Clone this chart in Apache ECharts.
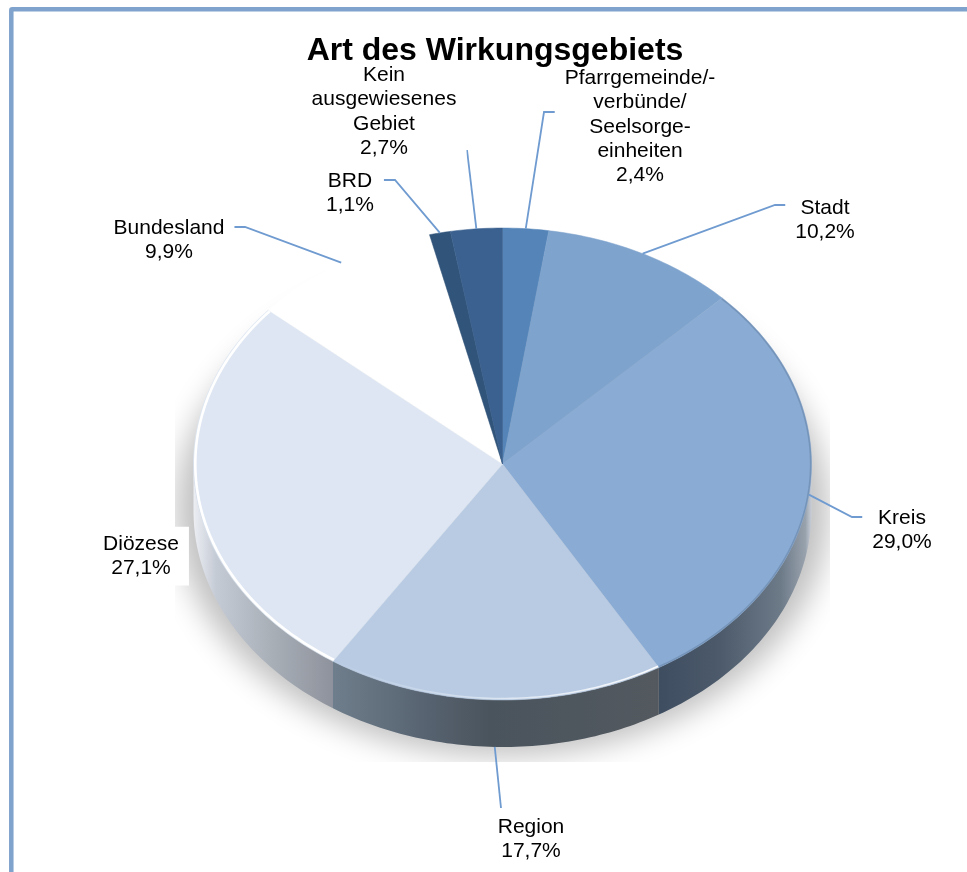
<!DOCTYPE html>
<html>
<head>
<meta charset="utf-8">
<script src="https://cdn.jsdelivr.net/npm/echarts@6/dist/echarts.min.js"></script>
<style>html,body{margin:0;padding:0;background:#fff}#c{width:967px;height:872px}</style>
</head>
<body>
<div id="c"></div>
<script>
// Data
var categories = ['Pfarrgemeinde/-\nverbünde/\nSeelsorge-\neinheiten', 'Stadt', 'Kreis', 'Region', 'Diözese', 'Bundesland', 'BRD', 'Kein\nausgewiesenes\nGebiet'];
var values = [2.4, 10.2, 29.0, 17.7, 27.1, 9.9, 1.1, 2.7];
var valueLabels = ['2,4%', '10,2%', '29,0%', '17,7%', '27,1%', '9,9%', '1,1%', '2,7%'];

// Styling
var topColors = ['#5585b8', '#7ea3cd', '#8aabd3', '#b8cbe3', '#dde6f2', '#ffffff', '#31547a', '#3a618f'];
var wallStops = {
  2: [[0, '#3e4d60'], [0.4, '#4c5a6b'], [0.8, '#6d7a88'], [0.96, '#98a2ad'], [1, '#c8ced8']],
  3: [[0, '#6f7e8c'], [0.27, '#586472'], [0.48, '#4a545d'], [1, '#53595f']],
  4: [[0, '#eceef3'], [0.16, '#c5cbd5'], [0.55, '#a9b0b8'], [1, '#8e929c']]
};
// Label layout: text centre, first line centre, leader elbow points
var labelLayout = [
  {x: 640, y: 77,  path: [[544, 112], [555, 112]]},
  {x: 825, y: 207, path: [[775, 205], [789, 205]]},
  {x: 902, y: 517, path: [[852, 517], [866, 517]]},
  {x: 531, y: 826, path: [[501, 808]], onWall: true},
  {x: 141, y: 543, path: []},
  {x: 169, y: 227, path: [[245, 227], [234, 227]]},
  {x: 350, y: 180, path: [[395, 180], [383, 180]]},
  {x: 384, y: 74,  path: [[467, 150]]}
];

var CX = 502.5, CY = 464, RX = 309, RY = 236, DEPTH = 47;
var LINE = '#6f9bd0', LH = 24.4, FONT = 'Liberation Sans, Arial, sans-serif';
var total = values.reduce(function (a, b) { return a + b; }, 0);
var cum = [0];
values.forEach(function (v, i) { cum.push(cum[i] + v); });
function ang(c) { return c / total * 360; }
function pt(t, dy, inset) {
  var r = t * Math.PI / 180, k = inset || 0;
  return [CX + (RX - k) * Math.sin(r), CY - (RY - k) * Math.cos(r) + (dy || 0)];
}
function arc(a, b, dy, inset) {
  var out = [], n = Math.max(2, Math.ceil(Math.abs(b - a)));
  for (var i = 0; i <= n; i++) out.push(pt(a + (b - a) * i / n, dy, inset));
  return out;
}
function grad(stops) {
  return new echarts.graphic.LinearGradient(0, 0, 1, 0, stops.map(function (s) { return {offset: s[0], color: s[1]}; }));
}
function renderShadow() {
  return {
    type: 'group',
    clipPath: {type: 'rect', shape: {x: 175, y: 260, width: 655, height: 502}},
    children: [{
      type: 'ellipse',
      shape: {cx: CX - 2000, cy: 510, rx: 326, ry: 246},
      style: {fill: '#c0c0c0', shadowBlur: 30, shadowColor: '#c0c0c0', shadowOffsetX: 2000}
    }]
  };
}
function renderWall(params, api) {
  var i = params.dataIndex, a = ang(cum[i]), b = ang(cum[i + 1]);
  var s = Math.max(a, 90), e = Math.min(b, 270);
  if (e <= s || !wallStops[i]) return {type: 'group', children: []};
  var pts = arc(s, e, 0).concat(arc(e, s, DEPTH));
  return {type: 'polygon', shape: {points: pts}, style: {fill: grad(wallStops[i])}};
}
function renderTop(params, api) {
  var i = params.dataIndex, a = ang(cum[i]), b = ang(cum[i + 1]);
  var pts = [[CX, CY]].concat(arc(a, b, 0));
  var kids = [{
    type: 'polygon', shape: {points: pts},
    style: {fill: topColors[i], stroke: topColors[i], lineWidth: 0.5}
  }];
  if (i === 2) {
    kids.push({type: 'polyline', shape: {points: arc(a, b, 0, 0.8)}, style: {fill: null, stroke: 'rgba(70,95,130,0.3)', lineWidth: 1.6}});
  }
  if (i === 3) {
    kids.push({type: 'polyline', shape: {points: arc(a, b, 0, 1.5)},
      style: {fill: null, lineWidth: 1.6, stroke: new echarts.graphic.LinearGradient(1, 0, 0, 0, [{offset: 0, color: 'rgba(255,255,255,0.95)'}, {offset: 1, color: 'rgba(255,255,255,0)'}])}});
  }
  if (i === 4) {
    kids.push({type: 'polyline', shape: {points: arc(a, b, 0, 1.8)}, style: {fill: null, stroke: '#ffffff', lineWidth: 2.6}});
  }
  return {type: 'group', children: kids};
}
function renderLabel(params, api) {
  var i = params.dataIndex, lay = labelLayout[i];
  var mid = ang((cum[i] + cum[i + 1]) / 2);
  var kids = [];
  if (lay.path.length) {
    var start = pt(mid, lay.onWall ? DEPTH : 0);
    kids.push({type: 'polyline', shape: {points: [start].concat(lay.path)}, style: {fill: null, stroke: LINE, lineWidth: 1.8}});
  }
  var text = categories[i] + '\n' + valueLabels[i];
  kids.push({
    type: 'text', x: lay.x, y: lay.y - LH / 2 - 4,
    style: {
      text: text, fill: '#000', fontSize: 21, fontFamily: FONT,
      align: 'center', verticalAlign: 'top', lineHeight: LH,
      backgroundColor: '#ffffff', padding: [5, 10, 5, 10]
    }
  });
  return {type: 'group', children: kids};
}
var seriesData = categories.map(function (c, i) { return {name: c, value: values[i]}; });
var chart = echarts.init(document.getElementById('c'), null, {renderer: 'canvas'});
chart.setOption({
  animation: false,
  backgroundColor: '#ffffff',
  tooltip: {show: false},
  title: {
    text: 'Art des Wirkungsgebiets', left: 490, top: 30, textAlign: 'center',
    textStyle: {fontFamily: FONT, fontSize: 32, fontWeight: 'bold', color: '#000'}
  },
  graphic: [{
    type: 'rect', silent: true, z: 0,
    shape: {x: 11.3, y: 9.3, width: 1100, height: 1100, r: 1},
    style: {fill: null, stroke: '#7fa3cc', lineWidth: 4.5}
  }],
  series: [
    {type: 'custom', coordinateSystem: 'none', silent: true, z: 1, renderItem: renderShadow, data: [{name: 'shadow', value: 1}]},
    {type: 'custom', coordinateSystem: 'none', silent: true, z: 2, renderItem: renderWall, data: seriesData},
    {type: 'custom', coordinateSystem: 'none', silent: true, z: 3, renderItem: renderTop, data: seriesData},
    {type: 'custom', coordinateSystem: 'none', silent: true, z: 4, renderItem: renderLabel, data: seriesData}
  ]
});
</script>
</body>
</html>
